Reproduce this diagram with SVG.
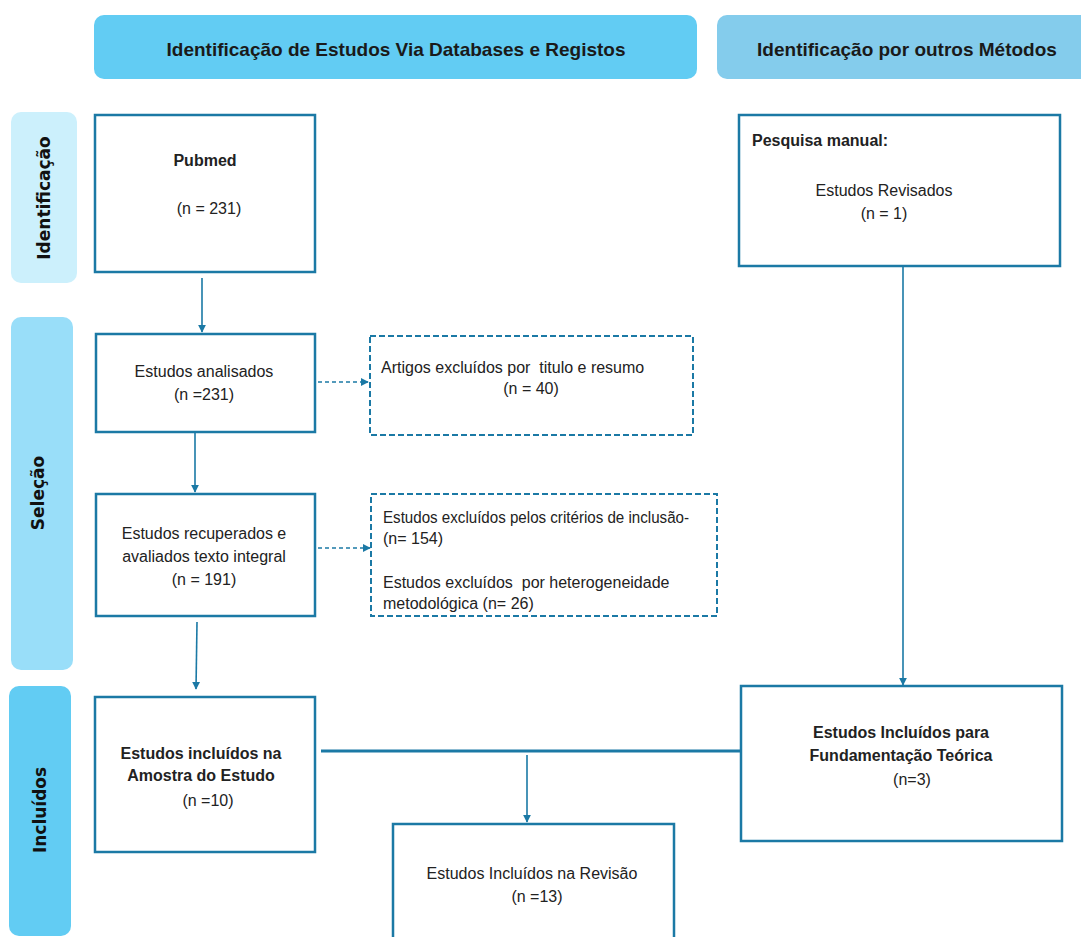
<svg xmlns="http://www.w3.org/2000/svg" width="1081" height="937" viewBox="0 0 1081 937">
<style>
.box{fill:#fff;stroke:#1b79a5;stroke-width:2.5}
.dbox{fill:#fff;stroke:#1b79a5;stroke-width:2;stroke-dasharray:6,3}
.t{font-family:"Liberation Sans",Arial,sans-serif;font-size:16px;fill:#222;white-space:pre}
.b{font-weight:bold}
.c{text-anchor:middle}
.h{font-family:"Liberation Sans",Arial,sans-serif;font-size:19px;font-weight:bold;fill:#1a1a1a;text-anchor:middle}
.side{font-family:"DejaVu Sans",sans-serif;font-size:17px;font-weight:bold;fill:#111;text-anchor:middle}
.ln{fill:none;stroke:#1b79a5;stroke-width:1.6}
.dl{fill:none;stroke:#1b79a5;stroke-width:1.6;stroke-dasharray:4,3}
</style>
<defs>
<marker id="ah" viewBox="0 0 10 10" refX="9" refY="5" markerWidth="8" markerHeight="8" orient="auto" markerUnits="userSpaceOnUse">
<path d="M0,0 L10,5 L0,10 z" fill="#1b79a5"/>
</marker>
</defs>
<rect width="1081" height="937" fill="#fff"/>

<g id="header-left"><rect x="94" y="15" width="603" height="64" rx="10" fill="#62ccf3"/><text class="h" x="396" y="56">Identificação de Estudos Via Databases e Registos</text></g>
<g id="header-right"><rect x="717" y="15" width="380" height="64" rx="10" fill="#84ccec"/><text class="h" x="907" y="56">Identificação por outros Métodos</text></g>

<g id="side-identificacao"><rect x="11" y="112" width="66" height="171" rx="10" fill="#ccf0fc"/><text class="side" transform="translate(50,198) rotate(-90)">Identificação</text></g>
<g id="side-selecao"><rect x="11" y="317" width="62" height="353" rx="10" fill="#99def9"/><text class="side" transform="translate(44,493) rotate(-90)">Seleção</text></g>
<g id="side-incluidos"><rect x="9" y="686" width="62" height="250" rx="10" fill="#62ccf3"/><text class="side" transform="translate(46,810) rotate(-90)">Incluídos</text></g>

<g id="pubmed"><rect class="box" x="95" y="115" width="220" height="157"/><text class="t b c" x="205" y="166">Pubmed</text><text class="t c" x="209" y="214">(n = 231)</text></g>

<g id="pesquisa"><rect class="box" x="739" y="115" width="321" height="151"/><text class="t b" x="752" y="146">Pesquisa manual:</text><text class="t c" x="884" y="196">Estudos Revisados</text><text class="t c" x="884" y="219">(n = 1)</text></g>

<g id="analisados"><rect class="box" x="96" y="334" width="219" height="98"/><text class="t c" x="204" y="377">Estudos analisados</text><text class="t c" x="204" y="400">(n =231)</text></g>

<g id="excl1"><rect class="dbox" x="370" y="336" width="323" height="99"/><text class="t" x="381" y="373" xml:space="preserve">Artigos excluídos por  titulo e resumo</text><text class="t c" x="531" y="394">(n = 40)</text></g>

<g id="recuperados"><rect class="box" x="96" y="494" width="219" height="122"/><text class="t c" x="204" y="539">Estudos recuperados e</text><text class="t c" x="204" y="562">avaliados texto integral</text><text class="t c" x="204" y="585">(n = 191)</text></g>

<g id="excl2"><rect class="dbox" x="371" y="494" width="346" height="122"/><text class="t" x="383" y="523" textLength="306" lengthAdjust="spacingAndGlyphs">Estudos excluídos pelos critérios de inclusão-</text><text class="t" x="383" y="544">(n= 154)</text><text class="t" x="383" y="588" xml:space="preserve">Estudos excluídos  por heterogeneidade</text><text class="t" x="383" y="609">metodológica (n= 26)</text></g>

<g id="amostra"><rect class="box" x="95" y="697" width="220" height="155"/><text class="t b c" x="201" y="759">Estudos incluídos na</text><text class="t b c" x="201" y="781">Amostra do Estudo</text><text class="t c" x="208" y="806">(n =10)</text></g>

<g id="fundamentacao"><rect class="box" x="741" y="686" width="321" height="155"/><text class="t b c" x="901" y="738">Estudos Incluídos para</text><text class="t b c" x="901" y="761">Fundamentação Teórica</text><text class="t c" x="912" y="785">(n=3)</text></g>

<g id="revisao"><rect class="box" x="393" y="824" width="281" height="130"/><text class="t c" x="532" y="879">Estudos Incluídos na Revisão</text><text class="t c" x="537" y="902">(n =13)</text></g>

<g id="connectors">
<line class="ln" x1="202" y1="278" x2="202" y2="332" marker-end="url(#ah)"/>
<line class="ln" x1="195" y1="433" x2="195" y2="492" marker-end="url(#ah)"/>
<line class="ln" x1="197" y1="622" x2="196" y2="689" marker-end="url(#ah)"/>
<line class="dl" x1="318" y1="382" x2="368" y2="382" marker-end="url(#ah)"/>
<line class="dl" x1="318" y1="548" x2="370" y2="548" marker-end="url(#ah)"/>
<line class="ln" x1="903" y1="267" x2="903" y2="685" marker-end="url(#ah)"/>
<line x1="321" y1="751" x2="741" y2="751" stroke="#1b79a5" stroke-width="3"/>
<line class="ln" x1="527" y1="755" x2="527" y2="822" marker-end="url(#ah)"/>
</g>
</svg>
